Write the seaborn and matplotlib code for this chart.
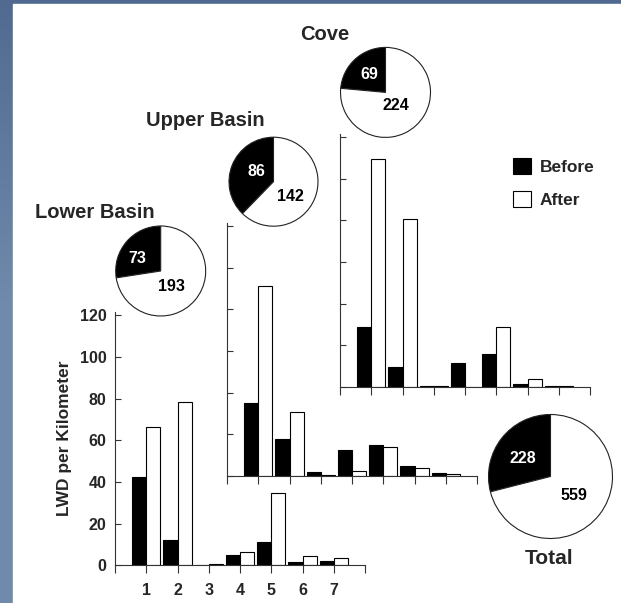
import seaborn as sns
import matplotlib.pyplot as plt
import matplotlib.patches as mpatches
import pandas as pd
import numpy as np

sns.set_style("ticks")
plt.rcParams["font.family"] = ["Liberation Sans", "DejaVu Sans"]
plt.rcParams["font.weight"] = "bold"

# Data
reaches = ["1", "2", "3", "4", "5", "6", "7"]
periods = ["Before", "After"]

lower_before = [42.5, 12.1, 0.0, 5.1, 11.0, 1.6, 2.1]
lower_after = [66.4, 78.2, 0.5, 6.4, 34.9, 4.3, 3.4]
upper_before = [35.0, 17.7, 2.0, 12.5, 14.7, 5.0, 1.4]
upper_after = [91.0, 30.7, 0.6, 2.5, 13.8, 3.7, 1.1]
cove_before = [28.9, 9.4, 0.6, 11.4, 15.7, 1.3, 0.5]
cove_after = [109.5, 80.4, 0.3, 0.0, 28.9, 3.7, 0.3]

pie_names = ["Lower Basin", "Upper Basin", "Cove", "Total"]
pie_before = [73, 86, 69, 228]
pie_after = [193, 142, 224, 559]

W, H = 621, 603
fig = plt.figure(figsize=(W / 100, H / 100), dpi=100)

# Slide-style frame
bg = fig.add_axes([0, 0, 1, 1], zorder=-10)
t = np.clip(np.linspace(0, 1, H) / 0.5, 0, 1)
top_c = np.array([80, 106, 145]) / 255
bot_c = np.array([112, 138, 171]) / 255
grad = (top_c[None, :] * (1 - t[:, None]) + bot_c[None, :] * t[:, None])[:, None, :]
bg.imshow(grad, extent=[0, W, H, 0], aspect="auto")
bg.add_patch(mpatches.Rectangle((13, 4), W - 13, H - 4, color="white"))
bg.set_xlim(0, W)
bg.set_ylim(H, 0)
bg.axis("off")


def frac_rect(x0, y0, w, h):
    # pixel box (top-left origin) -> figure fraction
    return [x0 / W, 1 - (y0 + h) / H, w / W, h / H]


palette = {"Before": "black", "After": "white"}
ppu = 250 / 120  # pixels per LWD unit


def bar_panel(x0, y_zero, before, after, show_labels):
    ylim_top = 121.5
    ax = fig.add_axes(frac_rect(x0, y_zero - ylim_top * ppu, 250, ylim_top * ppu))
    ax.set_facecolor("none")
    df = pd.DataFrame({
        "Reach": reaches * 2,
        "Period": np.repeat(periods, len(reaches)),
        "LWD": before + after,
    })
    sns.barplot(data=df, x="Reach", y="LWD", hue="Period", order=reaches,
                hue_order=periods, palette=palette, edgecolor="black",
                linewidth=0.8, width=0.9, errorbar=None, legend=False, ax=ax)
    ax.set_xlim(-1, 7)
    ax.set_ylim(0, ylim_top)
    ax.set_xticks(range(-1, 8))
    ax.set_yticks(range(0, 121, 20))
    sns.despine(ax=ax)
    for s in ["left", "bottom"]:
        ax.spines[s].set_linewidth(0.8)
        ax.spines[s].set_color("#333333")
    ax.tick_params(axis="x", direction="out", length=6, width=0.8, color="#333333", pad=7)
    ax.tick_params(axis="y", direction="in", length=4, width=0.8, color="#333333", pad=6)
    ax.set_xlabel("")
    ax.set_ylabel("")
    if show_labels:
        ax.set_xticklabels([""] + reaches + [""], fontsize=11.5, fontweight="bold")
        ax.set_yticklabels([str(v) for v in range(0, 121, 20)], fontsize=11.5, fontweight="bold")
        ax.set_ylabel("LWD per Kilometer", fontsize=12.5, fontweight="bold", labelpad=6)
    else:
        ax.set_xticklabels([])
        ax.set_yticklabels([])
    return ax


ax_low = bar_panel(115, 565.3, lower_before, lower_after, True)
ax_up = bar_panel(227, 476, upper_before, upper_after, False)
ax_cove = bar_panel(340, 387, cove_before, cove_after, False)

# Legend
handles = [mpatches.Patch(facecolor=palette[p], edgecolor="black", linewidth=0.8) for p in periods]
fig.legend(handles, periods, loc="upper left", bbox_to_anchor=(513 / W, 1 - 158 / H),
           frameon=False, handlelength=1.05, handleheight=1.05,
           handletextpad=0.5, labelspacing=0.9, borderpad=0, borderaxespad=0,
           prop={"weight": "bold", "size": 12.5})

# Pies: centre, radius (px), label offsets (in radii), title centre, title size
pie_layout = [
    ((160.7, 271.0), 45.0, (-0.53, 0.28), (0.24, -0.35), (95, 212), 14.5),
    ((273.5, 181.7), 44.5, (-0.39, 0.22), (0.39, -0.34), (205.5, 121), 14.5),
    ((385.5, 92.4), 45.0, (-0.36, 0.40), (0.23, -0.30), (325, 34), 14.5),
    ((550.5, 476.5), 62.0, (-0.45, 0.29), (0.37, -0.31), (549, 558), 15),
]

k = 1.03
for name, b, a, (c, r, lb, la, tpos, tsize) in zip(pie_names, pie_before, pie_after, pie_layout):
    pax = fig.add_axes(frac_rect(c[0] - r * k, c[1] - r * k, 2 * r * k, 2 * r * k))
    pax.pie([b, a], colors=["black", "white"], startangle=90, counterclock=True,
            wedgeprops=dict(edgecolor="#222222", linewidth=0.8))
    pax.set_xlim(-k, k)
    pax.set_ylim(-k, k)
    pax.text(lb[0], lb[1], str(b), color="white", fontsize=11.5, fontweight="bold",
             ha="center", va="center")
    pax.text(la[0], la[1], str(a), color="black", fontsize=11.5, fontweight="bold",
             ha="center", va="center")
    fig.text(tpos[0] / W, 1 - tpos[1] / H, name, fontsize=tsize, fontweight="bold",
             ha="center", va="center")

fig.savefig("out.png", dpi=100)
plt.close(fig)
